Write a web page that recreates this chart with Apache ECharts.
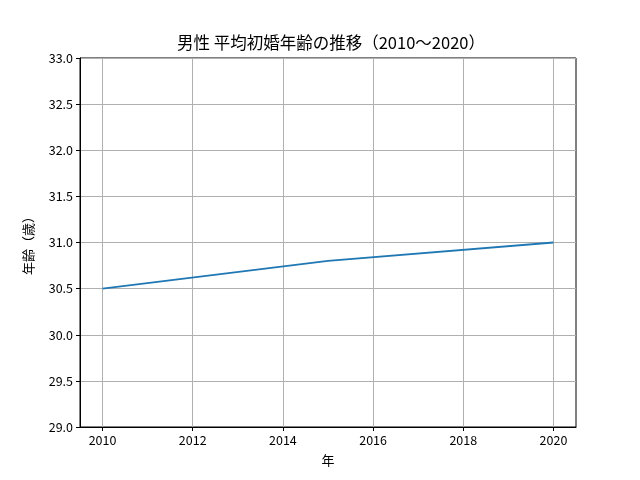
<!DOCTYPE html>
<html><head><meta charset="utf-8">
<script src="https://cdn.jsdelivr.net/npm/echarts@6/dist/echarts.min.js"></script>
<style>html,body{margin:0;padding:0;background:#fff}#c{width:640px;height:480px}</style>
</head><body><div id="c"></div>
<script>
const years = [2010, 2015, 2020];
const ages = [30.5, 30.8, 31.0];
const xTicks = [2010, 2012, 2014, 2016, 2018, 2020];
const titleText = '男性 平均初婚年齢の推移（2010〜2020）';
const xName = '年';
const yName = '年齢（歳）';
const font = '"Noto Sans CJK JP", "Noto Sans", sans-serif';
const chart = echarts.init(document.getElementById('c'), null, {renderer: 'canvas'});
chart.setOption({
  animation: false,
  backgroundColor: '#fff',
  title: {text: titleText, left: 172, top: 29, textStyle: {fontFamily: font, fontSize: 16.5, fontWeight: 'normal', color: '#000'}},
  grid: {left: 80, right: 64, top: 58, bottom: 53, show: true, borderColor: '#000', borderWidth: 1, backgroundColor: 'transparent'},
  xAxis: {
    type: 'value', min: 2009.5, max: 2020.5,
    name: xName, nameLocation: 'middle', nameGap: 27,
    nameTextStyle: {fontFamily: font, fontSize: 13, color: '#000'},
    axisLine: {show: true, lineStyle: {color: '#000'}},
    axisTick: {show: true, length: 4, lineStyle: {color: '#000'}, customValues: xTicks},
    axisLabel: {customValues: xTicks, fontFamily: font, fontSize: 12.5, color: '#000', margin: 7, formatter: v => String(v)},
    splitLine: {show: true, lineStyle: {color: '#b0b0b0', width: 1}}
  },
  yAxis: {
    type: 'value', min: 29, max: 33, interval: 0.5,
    name: yName, nameLocation: 'middle', nameGap: 45,
    nameTextStyle: {fontFamily: font, fontSize: 13, color: '#000'},
    axisLine: {show: true, lineStyle: {color: '#000'}},
    axisTick: {show: true, length: 4, lineStyle: {color: '#000'}},
    axisLabel: {fontFamily: font, fontSize: 12.5, color: '#000', margin: 7, formatter: v => v.toFixed(1)},
    splitLine: {show: true, lineStyle: {color: '#b0b0b0', width: 1}}
  },
  series: [{
    type: 'line', data: years.map((y, i) => [y, ages[i]]),
    showSymbol: false, symbol: 'none',
    lineStyle: {color: '#1f77b4', width: 1.8}
  }]
});
</script></body></html>
